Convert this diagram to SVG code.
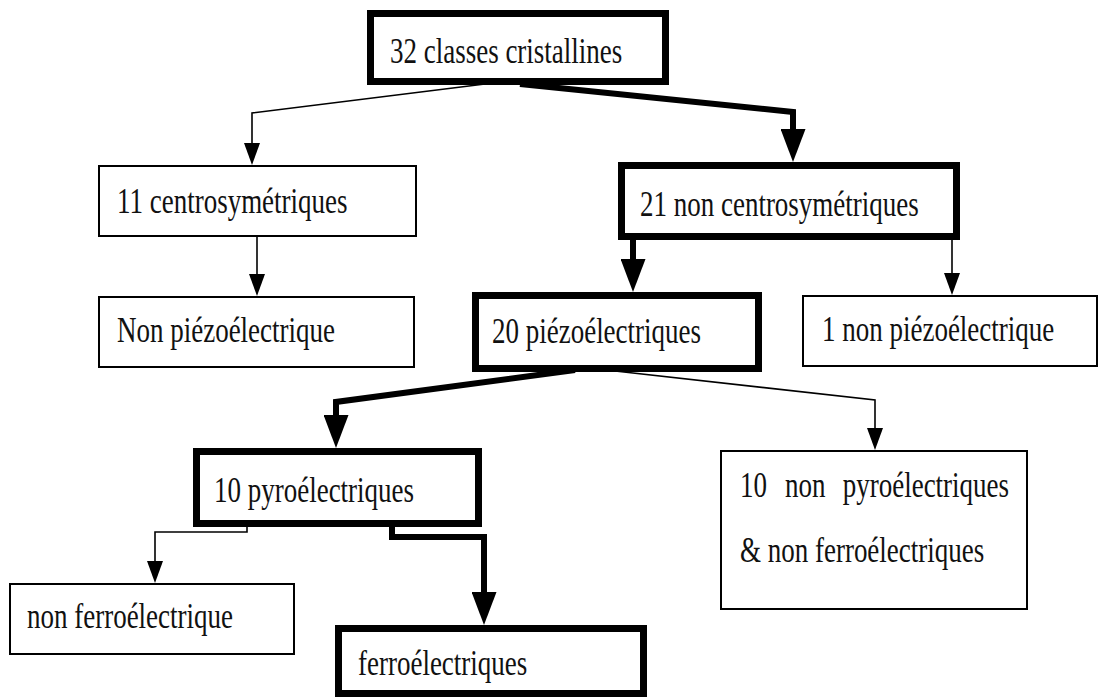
<svg xmlns="http://www.w3.org/2000/svg" width="1100" height="699" viewBox="0 0 1100 699">
<defs>
<style>
.box{fill:#fff;stroke:#000;stroke-width:2}
.bold{stroke-width:7}
.lbl{font-family:"Liberation Serif","Times New Roman",serif;font-size:36px;fill:#111}
.thin{fill:none;stroke:#000;stroke-width:1.6;marker-end:url(#ahs)}
.thick{fill:none;stroke:#000;stroke-width:6;stroke-linejoin:miter;marker-end:url(#ahl)}
</style>
<marker id="ahs" markerUnits="userSpaceOnUse" markerWidth="22" markerHeight="16" viewBox="0 0 22 16" refX="12" refY="8" orient="auto"><path d="M0,0L22,8L0,16Z" fill="#000"/></marker>
<marker id="ahl" markerUnits="userSpaceOnUse" markerWidth="33" markerHeight="25" viewBox="0 0 33 25" refX="15" refY="12.5" orient="auto"><path d="M0,0L33,12.5L0,25Z" fill="#000"/></marker>
</defs>
<rect width="1100" height="699" fill="#fff"/>
<g id="connectors">
<path class="thin" d="M485,84 L252,113 L252,155"/>
<path class="thick" d="M520,84 L793,112 L793,144"/>
<path class="thin" d="M257,237 L257,286"/>
<path class="thick" d="M633,238 L633,274"/>
<path class="thin" d="M952,238 L952,285"/>
<path class="thick" d="M575,370 L336,402 L336,430"/>
<path class="thin" d="M615,371 L875,400 L875,440"/>
<path class="thin" d="M247,526 L247,532 L155,532 L155,573"/>
<path class="thick" d="M392,525 L392,537 L484,537 L484,607"/>
</g>
<g id="n32">
<rect class="box bold" x="370.5" y="13.5" width="295" height="68"/>
<text class="lbl" transform="translate(390,63) scale(0.75,1)">32 classes cristallines</text>
</g>
<g id="n11">
<rect class="box" x="99" y="166" width="317" height="70"/>
<text class="lbl" transform="translate(117,213) scale(0.75,1)">11 centrosymétriques</text>
</g>
<g id="nNonPiezo">
<rect class="box" x="99" y="297" width="315" height="70"/>
<text class="lbl" transform="translate(117,342) scale(0.75,1)">Non piézoélectrique</text>
</g>
<g id="n21">
<rect class="box bold" x="621.5" y="165.5" width="335" height="71"/>
<text class="lbl" transform="translate(640,216) scale(0.75,1)">21 non centrosymétriques</text>
</g>
<g id="n20">
<rect class="box bold" x="475.5" y="295.5" width="283" height="73"/>
<text class="lbl" transform="translate(492,343) scale(0.75,1)">20 piézoélectriques</text>
</g>
<g id="n1">
<rect class="box" x="803" y="296" width="294" height="70"/>
<text class="lbl" transform="translate(822,341) scale(0.75,1)">1 non piézoélectrique</text>
</g>
<g id="nPyro">
<rect class="box bold" x="196.5" y="451.5" width="282" height="72"/>
<text class="lbl" transform="translate(214,502) scale(0.75,1)">10 pyroélectriques</text>
</g>
<g id="nNonPyro">
<rect class="box" x="721" y="451" width="306" height="158"/>
<text class="lbl" transform="translate(740,497) scale(0.75,1)"><tspan x="0">10</tspan><tspan x="60">non</tspan><tspan x="137">pyroélectriques</tspan></text>
<text class="lbl" transform="translate(740,562) scale(0.75,1)">&amp; non ferroélectriques</text>
</g>
<g id="nNonFerro">
<rect class="box" x="10" y="584" width="284" height="70"/>
<text class="lbl" transform="translate(27,628) scale(0.75,1)">non ferroélectrique</text>
</g>
<g id="nFerro">
<rect class="box bold" x="338.5" y="628.5" width="305" height="65"/>
<text class="lbl" transform="translate(358,675) scale(0.75,1)">ferroélectriques</text>
</g>
</svg>
